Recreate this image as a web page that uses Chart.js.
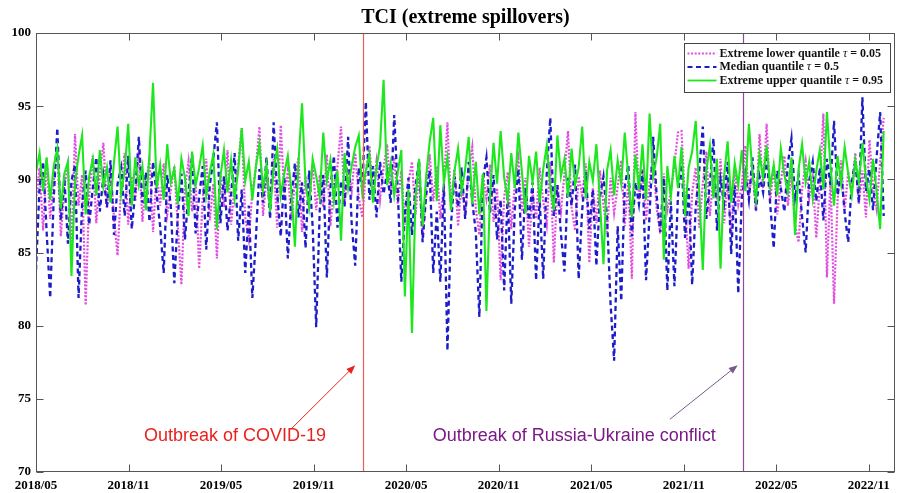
<!DOCTYPE html>
<html>
<head>
<meta charset="utf-8">
<title>TCI (extreme spillovers)</title>
<script src="https://cdn.jsdelivr.net/npm/chart.js@4.4.1/dist/chart.umd.min.js"></script>
<style>
  html, body { margin: 0; padding: 0; background: #fff; }
  #wrap { width: 898px; height: 493px; position: relative; }
</style>
</head>
<body>
<div id="wrap"><canvas id="tci-chart"></canvas></div>
<script>
// weekly TCI readings, first observation on 2018/05/01
const startDate = '2018-05-01';
const stepDays = 7;

// tau = 0.05
const lowerQuantile = [
  88.6, 90.8, 86.5, 91.4, 87.3, 89.9, 92.2, 86.1, 89.5, 91.0, 85.4, 93.1, 88.2, 90.3, 81.4, 88.9, 91.6, 87.0, 90.4, 92.5,
  88.0, 90.7, 87.4, 84.8, 89.6, 91.8, 86.9, 90.2, 88.5, 92.0, 87.1, 89.8, 91.3, 86.4, 90.5, 88.2, 91.1, 87.6, 89.3, 90.9,
  86.7, 82.8, 89.4, 91.2, 87.8, 90.0, 83.9, 88.6, 91.4, 87.2, 89.7, 84.6, 90.3, 88.1, 92.0, 86.9, 89.5, 91.0, 93.5, 87.4,
  85.9, 89.2, 90.8, 93.6, 87.5, 90.1, 88.3, 91.4, 86.7, 93.7, 88.9, 90.6, 87.2, 89.9, 91.5, 86.4, 90.2, 88.7, 91.0, 87.9,
  90.3, 88.1, 91.7, 86.8, 89.6, 90.9, 93.6, 88.4, 90.7, 89.2, 91.8, 88.8, 87.4, 90.5, 92.3, 89.1, 91.2, 88.6, 90.8, 92.4,
  89.0, 91.5, 88.3, 90.6, 86.9, 89.8, 91.2, 87.6, 90.4, 86.0, 89.3, 91.7, 88.5, 90.9, 87.3, 89.6, 93.9, 88.2, 90.7, 86.8,
  89.9, 87.5, 90.6, 92.2, 88.0, 86.2, 90.3, 88.7, 91.0, 87.1, 89.4, 83.1, 88.8, 90.5, 86.6, 89.7, 91.4, 87.8, 90.1, 85.4,
  89.1, 87.3, 90.8, 88.5, 86.9, 91.2, 84.3, 89.6, 87.8, 90.4, 93.3, 88.1, 86.5, 90.2, 88.9, 91.1, 84.3, 89.4, 87.0, 90.6,
  88.2, 86.4, 90.1, 87.7, 89.5, 91.3, 86.8, 89.9, 83.2, 94.6, 88.6, 90.7, 87.2, 89.8, 91.5, 88.0, 86.3, 90.4, 87.9, 89.2,
  91.0, 93.2, 93.3, 88.4, 83.9, 89.1, 90.8, 86.7, 89.7, 91.9, 87.5, 90.3, 88.6, 91.4, 87.0, 89.9, 86.2, 90.7, 88.3, 89.6,
  92.3, 88.9, 90.6, 87.8, 93.1, 89.4, 93.8, 88.5, 90.9, 87.6, 89.8, 91.6, 88.2, 90.4, 86.9, 85.7, 89.3, 91.2, 88.7, 90.1,
  86.0, 89.7, 94.5, 83.3, 90.2, 81.5, 88.6, 91.3, 87.9, 90.5, 89.1, 91.8, 88.3, 90.6, 87.4, 92.7, 89.5, 88.0, 91.2, 94.2
];

// tau = 0.5
const medianQuantile = [
  83.8, 89.5, 91.2, 86.4, 81.9, 88.7, 93.5, 87.2, 90.1, 85.6, 89.9, 91.0, 81.9, 88.3, 90.6, 86.9, 89.4, 91.5, 87.8, 90.2,
  88.1, 91.3, 86.2, 89.7, 90.8, 87.5, 91.6, 86.6, 89.2, 92.9, 88.4, 90.5, 87.1, 91.2, 89.0, 86.8, 83.6, 90.3, 88.2, 82.9,
  87.6, 90.4, 85.9, 89.1, 91.7, 86.3, 88.8, 90.9, 85.2, 89.6, 91.4, 93.9, 87.0, 90.2, 86.5, 88.9, 91.8, 85.8, 89.3, 83.6,
  88.2, 81.9, 86.0, 90.7, 88.4, 91.5, 87.3, 93.9, 89.0, 86.1, 90.2, 84.6, 88.7, 91.1, 87.4, 89.8, 85.3, 90.6, 86.8, 79.9,
  87.9, 90.3, 83.3, 89.4, 91.6, 86.7, 89.9, 88.1, 92.9, 87.0, 84.1, 90.8, 89.3, 95.3, 88.6, 90.9, 87.4, 91.2, 89.0, 90.5,
  88.4, 94.4, 89.2, 83.0, 87.6, 90.1, 86.2, 89.5, 91.3, 85.7, 88.9, 90.6, 83.6, 87.8, 83.0, 89.7, 78.3, 86.9, 90.2, 88.1,
  90.8, 87.3, 91.2, 88.5, 86.4, 80.6, 89.9, 91.5, 87.7, 90.3, 85.9, 88.6, 82.4, 89.1, 81.5, 88.0, 90.7, 84.5, 89.4, 87.2,
  89.8, 83.1, 88.7, 83.2, 90.4, 94.2, 87.5, 89.6, 86.3, 83.7, 90.1, 88.2, 91.0, 83.2, 87.9, 90.5, 86.6, 89.3, 84.1, 88.8,
  90.2, 87.4, 81.5, 77.6, 86.8, 81.7, 89.5, 91.0, 86.1, 89.8, 88.3, 90.6, 83.1, 87.6, 92.9, 88.9, 86.4, 90.1, 82.4, 88.5,
  82.7, 88.9, 91.3, 86.0, 89.4, 82.8, 88.1, 90.6, 93.6, 87.3, 89.7, 92.8, 86.5, 90.0, 88.4, 91.2, 84.9, 89.6, 82.2, 88.7,
  90.4, 88.6, 91.5, 87.9, 90.2, 89.1, 91.7, 88.3, 85.3, 90.6, 89.4, 87.8, 91.1, 92.8, 88.7, 90.3, 87.4, 85.0, 89.9, 91.2,
  88.5, 90.8, 87.2, 91.4, 89.6, 94.0, 88.9, 90.5, 87.7, 85.7, 89.8, 91.3, 88.4, 95.6, 89.2, 90.7, 87.9, 91.5, 94.6, 87.5
];

// tau = 0.95
const upperQuantile = [
  90.5, 91.8, 89.2, 91.5, 88.6, 90.9, 92.1, 88.0, 90.4, 91.2, 83.4, 89.8, 91.6, 93.0, 87.6, 90.2, 91.4, 88.9, 92.0, 89.5,
  90.8, 88.4, 91.2, 93.6, 89.0, 90.6, 93.8, 88.2, 91.5, 89.6, 90.9, 87.9, 91.8, 96.6, 89.4, 91.0, 88.6, 92.4, 89.8, 90.7,
  88.3, 91.4, 90.1, 87.5, 91.9, 89.6, 90.8, 92.3, 88.9, 90.5, 91.7, 86.6, 90.2, 92.0, 89.1, 91.3, 88.7, 90.6, 93.5, 89.9,
  91.2, 88.6, 90.9, 92.4, 89.3, 91.0, 87.8, 90.7, 92.1, 88.9, 90.4, 91.6, 89.2, 85.4, 91.1, 95.2, 89.7, 88.1, 91.4, 90.2,
  88.8, 93.2, 89.9, 91.3, 88.5, 90.6, 85.8, 91.8, 89.4, 90.9, 92.2, 93.0, 89.1, 90.6, 91.7, 88.4, 90.8, 92.3, 96.8, 89.6,
  91.1, 88.9, 90.5, 92.0, 82.0, 89.3, 79.5, 88.7, 91.4, 86.8, 90.2, 92.6, 94.2, 88.5, 93.7, 89.8, 91.5, 87.9, 90.6, 92.1,
  89.2, 90.7, 92.9, 88.3, 91.2, 87.6, 90.4, 81.0, 88.9, 92.5, 89.7, 93.3, 90.1, 88.6, 91.8, 89.4, 93.2, 90.5, 87.7, 91.6,
  89.8, 91.9, 88.4, 90.7, 92.3, 89.5, 87.9, 93.0, 90.2, 91.4, 88.8, 92.1, 89.6, 90.8, 93.6, 88.7, 91.2, 89.9, 92.4, 88.5,
  84.2, 90.6, 92.0, 88.9, 91.3, 89.7, 93.2, 90.1, 87.4, 91.7, 89.3, 92.4, 88.6, 94.5, 90.2, 91.5, 93.8, 84.5, 90.9, 88.8,
  91.6, 89.4, 92.2, 87.5, 90.8, 91.9, 94.0, 89.1, 83.8, 90.6, 92.3, 88.7, 91.4, 83.9, 90.2, 92.6, 88.4, 91.1, 89.6, 92.0,
  89.2, 93.8, 90.4, 88.6, 91.7, 90.1, 92.3, 89.5, 91.0, 88.9, 92.1, 90.3, 89.1, 91.5, 86.2, 90.7, 92.4, 89.8, 91.2, 88.7,
  90.6, 92.0, 89.3, 94.6, 90.9, 88.2, 91.6, 89.7, 92.2, 90.4, 88.9, 91.3, 89.8, 92.5, 90.1, 88.6, 91.4, 89.2, 86.6, 93.3
];

const seriesNames = ['Extreme lower quantile ', 'Median quantile ', 'Extreme upper quantile '];
const seriesTaus = ['0.05', '0.5', '0.95'];

const tickMonths = [0, 6, 12, 18, 24, 30, 36, 42, 48, 54];
const tickLabels = ['2018/05', '2018/11', '2019/05', '2019/11', '2020/05',
                    '2020/11', '2021/05', '2021/11', '2022/05', '2022/11'];
const yTicks = [70, 75, 80, 85, 90, 95, 100];

const eventLabels = ['Outbreak of COVID-19', 'Outbreak of Russia-Ukraine conflict'];
const eventDates = ['2020-02-06', '2022-02-24'];

// months elapsed since startDate
const DAYS_PER_MONTH = 30.437;
function monthsFrom(dateStr) {
  return (Date.parse(dateStr) - Date.parse(startDate)) / 86400000 / DAYS_PER_MONTH;
}
function toPoints(values) {
  return values.map((v, i) => ({ x: i * stepDays / DAYS_PER_MONTH, y: v }));
}

const SERIF = '"Liberation Serif", "Times New Roman", serif';
const styles = [
  { color: '#e24ee2', width: 2.2, dash: [2, 1.6] },
  { color: '#1c1cc8', width: 2.3, dash: [5, 3.5] },
  { color: '#1de81d', width: 2.1, dash: [] }
];
const eventStyles = [
  { line: '#e4605a', text: '#e8231f', arrow: '#e8231f' },
  { line: '#93479f', text: '#7b1a87', arrow: '#7b5a8a' }
];

function drawArrow(ctx, x0, y0, x1, y1, color) {
  const ang = Math.atan2(y1 - y0, x1 - x0);
  const len = 9, half = 3.5;
  ctx.strokeStyle = color;
  ctx.fillStyle = color;
  ctx.lineWidth = 1;
  ctx.beginPath();
  ctx.moveTo(x0, y0);
  ctx.lineTo(x1 - Math.cos(ang) * len * 0.6, y1 - Math.sin(ang) * len * 0.6);
  ctx.stroke();
  ctx.beginPath();
  ctx.moveTo(x1, y1);
  ctx.lineTo(x1 - len * Math.cos(ang) + half * Math.sin(ang), y1 - len * Math.sin(ang) - half * Math.cos(ang));
  ctx.lineTo(x1 - len * Math.cos(ang) - half * Math.sin(ang), y1 - len * Math.sin(ang) + half * Math.cos(ang));
  ctx.closePath();
  ctx.fill();
}

// box, inward ticks, event markers and the legend
const decorations = {
  id: 'decorations',
  afterDatasetsDraw(chart) {
    const { ctx, chartArea: a, scales: { x, y } } = chart;
    ctx.save();

    // event lines
    eventDates.forEach((d, k) => {
      const px = Math.round(x.getPixelForValue(monthsFrom(d))) + 0.5;
      ctx.strokeStyle = eventStyles[k].line;
      ctx.lineWidth = 1.2;
      ctx.beginPath();
      ctx.moveTo(px, a.top);
      ctx.lineTo(px, a.bottom);
      ctx.stroke();
    });

    // annotations: text anchor (month, value), arrow tail and tip in the same units
    const notes = [
      { text: [12.9, 72.45], from: [16.6, 73.0], to: [20.7, 77.3] },
      { text: [34.9, 72.45], from: [41.1, 73.6], to: [45.5, 77.3] }
    ];
    ctx.font = '18px "Liberation Sans", Arial, sans-serif';
    ctx.textAlign = 'center';
    ctx.textBaseline = 'middle';
    notes.forEach((n, k) => {
      ctx.fillStyle = eventStyles[k].text;
      ctx.fillText(eventLabels[k], x.getPixelForValue(n.text[0]), y.getPixelForValue(n.text[1]));
      drawArrow(ctx,
        x.getPixelForValue(n.from[0]), y.getPixelForValue(n.from[1]),
        x.getPixelForValue(n.to[0]), y.getPixelForValue(n.to[1]),
        eventStyles[k].arrow);
    });

    // frame
    ctx.strokeStyle = '#555';
    ctx.lineWidth = 1;
    const L = Math.round(a.left) + 0.5, R = Math.round(a.right) - 0.5;
    const T = Math.round(a.top) + 0.5, B = Math.round(a.bottom) - 0.5;
    ctx.strokeRect(L, T, R - L, B - T);
    const tl = 7;
    ctx.beginPath();
    tickMonths.forEach(m => {
      const px = Math.round(x.getPixelForValue(m)) + 0.5;
      ctx.moveTo(px, B); ctx.lineTo(px, B - tl);
      ctx.moveTo(px, T); ctx.lineTo(px, T + tl);
    });
    yTicks.forEach(v => {
      const py = Math.round(y.getPixelForValue(v)) + 0.5;
      ctx.moveTo(L, py); ctx.lineTo(L + tl, py);
      ctx.moveTo(R, py); ctx.lineTo(R - tl, py);
    });
    ctx.stroke();

    // legend
    const bw = 206, bh = 49;
    const bx = Math.round(a.right) - bw - 5 + 0.5, by = Math.round(a.top) + 10 + 0.5;
    ctx.fillStyle = '#fff';
    ctx.fillRect(bx, by, bw, bh);
    ctx.strokeStyle = '#444';
    ctx.lineWidth = 1;
    ctx.strokeRect(bx, by, bw, bh);
    ctx.textAlign = 'left';
    ctx.textBaseline = 'middle';
    seriesNames.forEach((name, k) => {
      const ry = by + 10 + k * 13.5;
      ctx.strokeStyle = styles[k].color;
      ctx.lineWidth = Math.min(styles[k].width, 1.8);
      ctx.setLineDash(styles[k].dash);
      ctx.beginPath();
      ctx.moveTo(bx + 3, ry);
      ctx.lineTo(bx + 32, ry);
      ctx.stroke();
      ctx.setLineDash([]);
      let tx = bx + 35;
      ctx.fillStyle = '#111';
      ctx.font = 'bold 12px ' + SERIF;
      ctx.fillText(name, tx, ry);
      tx += ctx.measureText(name).width;
      ctx.font = 'italic 12px ' + SERIF;
      ctx.fillText('\u03c4', tx, ry);
      tx += ctx.measureText('\u03c4').width;
      ctx.font = 'bold 12px ' + SERIF;
      ctx.fillText(' = ' + seriesTaus[k], tx, ry);
    });

    ctx.restore();
  }
};

const ctx = document.getElementById('tci-chart').getContext('2d');
new Chart(ctx, {
  type: 'line',
  data: {
    datasets: [lowerQuantile, medianQuantile, upperQuantile].map((vals, k) => ({
      label: seriesNames[k].trim(),
      data: toPoints(vals),
      borderColor: styles[k].color,
      borderWidth: styles[k].width,
      borderDash: styles[k].dash,
      pointRadius: 0,
      tension: 0,
      fill: false,
      order: 3 - k
    }))
  },
  options: {
    responsive: true,
    maintainAspectRatio: false,
    animation: false,
    layout: { padding: { right: 3, bottom: 0, left: 0, top: 0 } },
    plugins: {
      legend: { display: false },
      tooltip: { enabled: false },
      title: {
        display: true,
        text: 'TCI (extreme spillovers)',
        fullSize: false,
        color: '#000',
        font: { family: SERIF, weight: 'bold', size: 20 },
        padding: { top: 6, bottom: 3 }
      }
    },
    scales: {
      x: {
        type: 'linear',
        min: 0,
        max: 55.7,
        grid: { display: false, drawTicks: false },
        border: { display: false },
        afterBuildTicks: scale => { scale.ticks = tickMonths.map(v => ({ value: v })); },
        afterFit: scale => { scale.height = 21; },
        ticks: {
          autoSkip: false,
          maxRotation: 0,
          padding: 6,
          color: '#000',
          font: { family: SERIF, weight: 'bold', size: 13 }
        ,
          callback: (val, i) => tickLabels[i]
        }
      },
      y: {
        min: 70,
        max: 100,
        grid: { display: false, drawTicks: false },
        border: { display: false },
        afterBuildTicks: scale => { scale.ticks = yTicks.map(v => ({ value: v })); },
        afterFit: scale => { scale.width = 36; },
        ticks: {
          padding: 5,
          color: '#000',
          font: { family: SERIF, weight: 'bold', size: 13 }
        }
      }
    }
  },
  plugins: [decorations]
});
</script>
</body>
</html>
